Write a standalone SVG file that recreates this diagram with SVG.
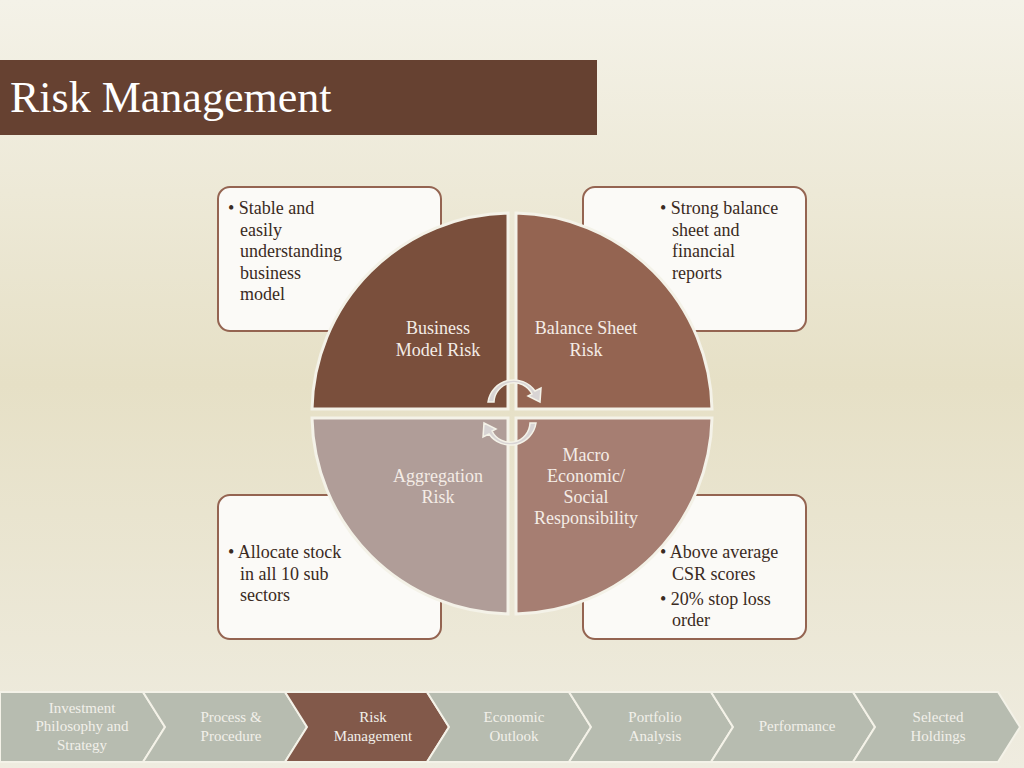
<svg xmlns="http://www.w3.org/2000/svg" width="1024" height="768" viewBox="0 0 1024 768">
<defs>
<linearGradient id="bg" x1="0" y1="0" x2="0" y2="1">
<stop offset="0" stop-color="#f4f2e8"/><stop offset="0.5" stop-color="#e6e0c6"/><stop offset="1" stop-color="#efece0"/>
</linearGradient>
<style>
.t{font-family:"Liberation Serif",serif;font-size:18px;fill:#3a2a22}
.q{font-family:"Liberation Serif",serif;font-size:18px;fill:#f4ece6;text-anchor:middle}
.c{font-family:"Liberation Serif",serif;font-size:15px;fill:#f2f0ea;text-anchor:middle}
.box{fill:#fbfaf7;stroke:#946451;stroke-width:2}
.chev{fill:#b7bcb0;stroke:#f4f2e8;stroke-width:2}
</style>
</defs>
<rect width="1024" height="768" fill="url(#bg)"/>
<rect x="0" y="60" width="597" height="75" fill="#664131"/>
<text x="10" y="112" style="font-family:'Liberation Serif',serif;font-size:44px;fill:#fff">Risk Management</text>
<g id="box-tl"><rect class="box" x="218" y="187" width="223" height="144" rx="12"/>
<text class="t" x="228" y="214">• Stable and</text><text class="t" x="240" y="236">easily</text><text class="t" x="240" y="257">understanding</text><text class="t" x="240" y="279">business</text><text class="t" x="240" y="300">model</text></g>
<g id="box-tr"><rect class="box" x="583" y="187" width="223" height="144" rx="12"/>
<text class="t" x="660" y="214">• Strong balance</text><text class="t" x="672" y="236">sheet and</text><text class="t" x="672" y="257">financial</text><text class="t" x="672" y="279">reports</text></g>
<g id="box-bl"><rect class="box" x="218" y="495" width="223" height="144" rx="12"/>
<text class="t" x="228" y="558">• Allocate stock</text><text class="t" x="240" y="580">in all 10 sub</text><text class="t" x="240" y="601">sectors</text></g>
<g id="box-br"><rect class="box" x="583" y="495" width="223" height="144" rx="12"/>
<text class="t" x="660" y="558">• Above average</text><text class="t" x="672" y="580">CSR scores</text><text class="t" x="660" y="605">• 20% stop loss</text><text class="t" x="672" y="626">order</text></g>
<g stroke="#f4f2e8" stroke-width="3">
<g id="q-tl"><path d="M508,213 A200,200 0 0 0 312,409 L508,409 Z" fill="#7a4f3c"/></g>
<g id="q-tr"><path d="M516,213 A200,200 0 0 1 712,409 L516,409 Z" fill="#946451"/></g>
<g id="q-bl"><path d="M508,418 L312,418 A200,200 0 0 0 508,614 Z" fill="#b09d98"/></g>
<g id="q-br"><path d="M516,418 L712,418 A200,200 0 0 1 516,614 Z" fill="#a67e72"/></g>
</g>
<text class="q" x="438" y="334">Business</text><text class="q" x="438" y="356">Model Risk</text>
<text class="q" x="586" y="334">Balance Sheet</text><text class="q" x="586" y="356">Risk</text>
<text class="q" x="438" y="482">Aggregation</text><text class="q" x="438" y="503">Risk</text>
<text class="q" x="586" y="461">Macro</text><text class="q" x="586" y="482">Economic/</text><text class="q" x="586" y="503">Social</text><text class="q" x="586" y="524">Responsibility</text>
<g id="connectors" fill="#d8d4d4" stroke="#f4f2e8" stroke-width="1.5">
<path d="M488,402 A26,26 0 0 1 535,391 L541,388 L540,402 L528,396 L532,394 A20,20 0 0 0 494,402 Z"/>
<path d="M536,423 A26,26 0 0 1 489,434 L483,437 L484,423 L496,429 L492,431 A20,20 0 0 0 530,423 Z"/>
</g>
<g id="nav">
<path class="chev" d="M0,692 H143 L165,727 L143,762 H0 Z"/>
<path class="chev" d="M143,692 H285 L307,727 L285,762 H143 L165,727 Z"/>
<path d="M285,692 H427 L449,727 L427,762 H285 L307,727 Z" fill="#82594a" stroke="#f4f2e8" stroke-width="2"/>
<path class="chev" d="M427,692 H569 L591,727 L569,762 H427 L449,727 Z"/>
<path class="chev" d="M569,692 H711 L733,727 L711,762 H569 L591,727 Z"/>
<path class="chev" d="M711,692 H853 L875,727 L853,762 H711 L733,727 Z"/>
<path class="chev" d="M853,692 H998 L1020,727 L998,762 H853 L875,727 Z"/>
<text class="c" x="82" y="713">Investment</text><text class="c" x="82" y="731">Philosophy and</text><text class="c" x="82" y="750">Strategy</text>
<text class="c" x="231" y="722">Process &amp;</text><text class="c" x="231" y="741">Procedure</text>
<text class="c" x="373" y="722">Risk</text><text class="c" x="373" y="741">Management</text>
<text class="c" x="514" y="722">Economic</text><text class="c" x="514" y="741">Outlook</text>
<text class="c" x="655" y="722">Portfolio</text><text class="c" x="655" y="741">Analysis</text>
<text class="c" x="797" y="731">Performance</text>
<text class="c" x="938" y="722">Selected</text><text class="c" x="938" y="741">Holdings</text>
</g>
</svg>
